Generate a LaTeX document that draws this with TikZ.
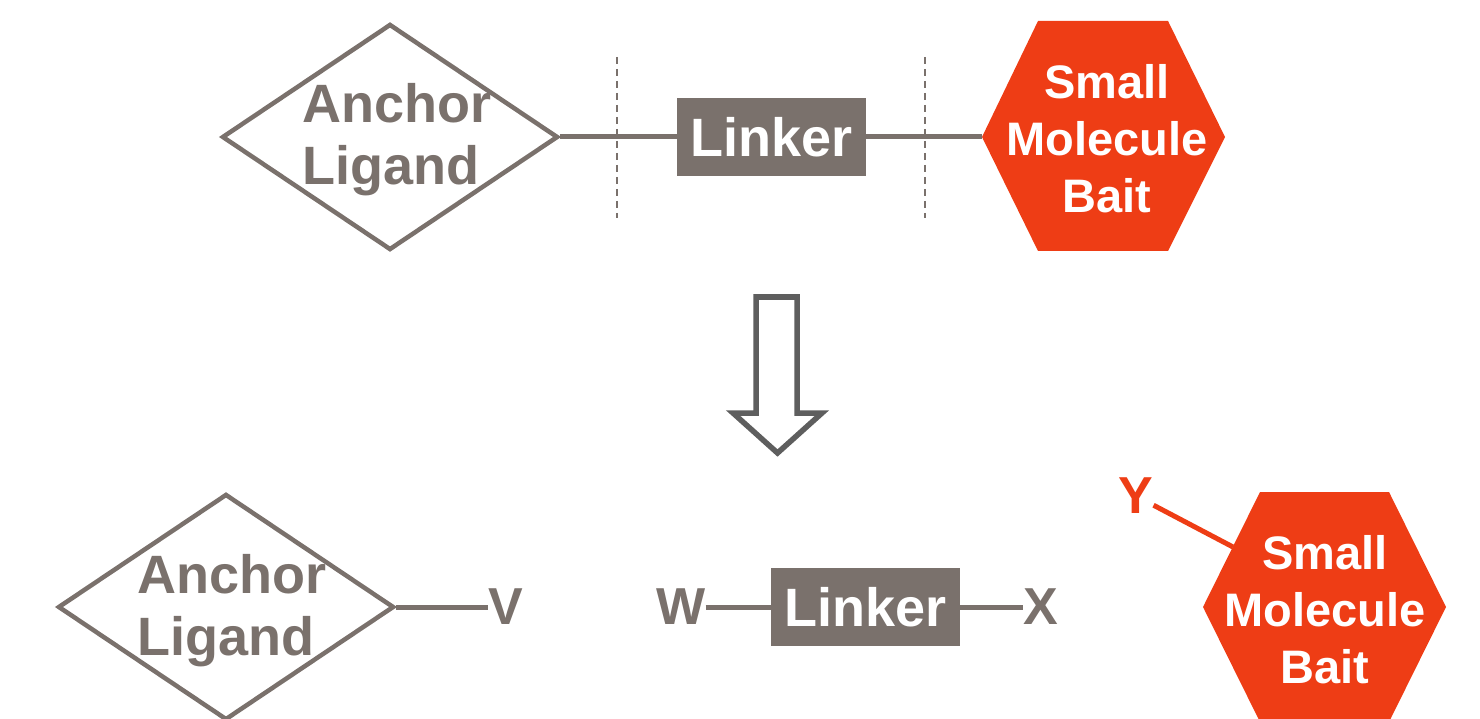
\documentclass[tikz,border=0pt]{standalone}
\usepackage{fontspec}
\setmainfont{Liberation Sans}
\usetikzlibrary{shapes.geometric,positioning}
\definecolor{taupe}{HTML}{7A716C}
\definecolor{baitred}{HTML}{EE3D15}
\definecolor{arrowgray}{HTML}{5E5E5E}
\tikzset{
  ligand/.style={diamond, draw=taupe, line width=4.5pt, minimum width=336pt, minimum height=226pt, inner sep=0pt},
  ligandtxt/.style={text=taupe, font=\bfseries\fontsize{54}{62}\selectfont, align=left, inner sep=0pt},
  linkerbox/.style={fill=taupe, text=white, font=\bfseries\fontsize{54}{62}\selectfont, minimum width=189pt, minimum height=78pt, inner sep=0pt},
  baittxt/.style={text=white, font=\bfseries\fontsize{47}{57}\selectfont, align=center, inner sep=0pt},
  endgroup/.style={text=taupe, font=\bfseries\fontsize{52}{62}\selectfont, inner sep=0pt},
  link/.style={draw=taupe, line width=5pt},
  cut/.style={draw=taupe, line width=1.5pt, dash pattern=on 7pt off 5pt}
}
\begin{document}
\begin{tikzpicture}[x=1pt,y=-1pt]
\useasboundingbox (0,0) rectangle (1480,719);
% whole bait
\node[ligand] (anchor) at (390,137) {};
\node[ligandtxt] (anchortxt) at (397,140) {Anchor\\Ligand};
\node[linkerbox] (linker) at (771.5,137) {Linker};
\fill[baitred] (982,137) -- (1038,21) -- (1168,21) -- (1225,137) -- (1168,251) -- (1038,251) -- cycle;
\coordinate (baitL) at (982,137);
\node[baittxt] (bait) at (1107,139) {Small\\Molecule\\Bait};
\draw[link] (anchor.east) -- (linker.west);
\draw[link] (linker.east) -- (baitL);
\foreach \x in {617,925}
  \draw[cut] (\x,57) -- (\x,218);
% open arrow
\draw[arrowgray, line width=5.5pt, line join=miter] (756,297) -- (797,297) -- (797,413) -- (822,413) -- (777.5,453) -- (733,413) -- (756,413) -- cycle;
% building blocks
\node[ligand] (anchorB) at (226,607) {};
\node[ligandtxt] (anchorBtxt) at (232,611) {Anchor\\Ligand};
\node[endgroup] (endV) at (505.5,607) {V};
\node[endgroup] (endW) at (681,607) {W};
\node[linkerbox] (linkerB) at (865.5,607) {Linker};
\node[endgroup] (endX) at (1041,607) {X};
\fill[baitred] (1203,607) -- (1260,492) -- (1389,492) -- (1446,607) -- (1389,722) -- (1260,722) -- cycle;
\coordinate (baitBedge) at (1233,547);
\node[baittxt] (baitB) at (1325,610) {Small\\Molecule\\Bait};
\node[endgroup, text=baitred] (endY) at (1136,496) {Y};
\draw[link] (anchorB.east) -- (endV);
\draw[link] (endW) -- (linkerB);
\draw[link] (linkerB) -- (endX);
\draw[link, draw=baitred] (endY) -- (baitBedge);
\end{tikzpicture}
\end{document}
